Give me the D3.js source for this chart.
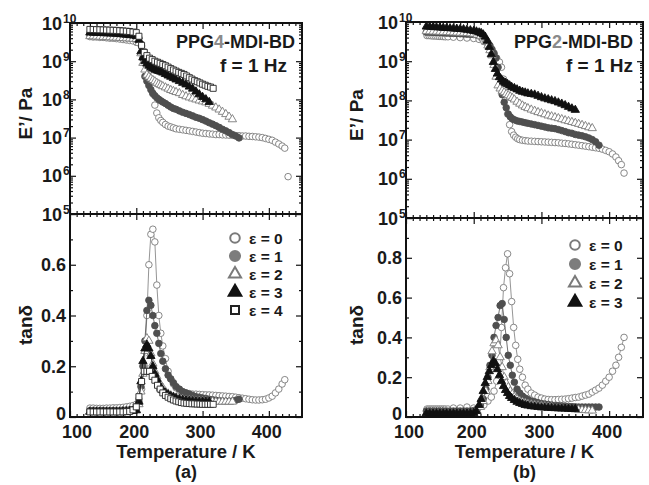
<!DOCTYPE html>
<html>
<head>
<meta charset="utf-8">
<script src="https://cdn.jsdelivr.net/npm/d3@7"></script>
<style>
  body { margin: 0; background: #fff; }
  text { font-family: "Liberation Sans", Arial, sans-serif; font-weight: bold; fill: #1a1a1a; }
</style>
</head>
<body>
<svg id="chart" width="649" height="485"></svg>
<script>
'use strict';

// ---- tick labels / legend ----
const tempTicks = [100, 200, 300, 400];
const modTicks = [1e5, 1e6, 1e7, 1e8, 1e9, 1e10];
const tanTicksA = [0, 0.2, 0.4, 0.6];
const tanTicksB = [0, 0.2, 0.4, 0.6, 0.8];
const legendA = ["ε = 0", "ε = 1", "ε = 2", "ε = 3", "ε = 4"];
const legendB = ["ε = 0", "ε = 1", "ε = 2", "ε = 3"];

// ---- (a) PPG4-MDI-BD : temperature (K), E' (Pa), tan delta ----
const tempA0 = [130,135,140,145,150,155,160,165,170,175,180,185,190,195,200,
  204,208,212,216,219,222,225,228,231,234,237,240,
  244,248,252,256,260,
  265,270,275,280,285,290,295,300,305,310,315,320,325,330,335,340,345,350,355,360,365,370,375,380,385,390,395,400,405,410,415,420,
  424,429];
const modA0 = [4.4e9,4.3e9,4.3e9,4.2e9,4.2e9,4.1e9,4.0e9,4.0e9,3.9e9,3.8e9,3.7e9,3.6e9,3.5e9,3.4e9,3.2e9,
  3.0e9,2.5e9,1.8e9,1.0e9,5.6e8,2.8e8,1.4e8,7.1e7,4.4e7,3.3e7,2.8e7,2.5e7,
  2.2e7,2.0e7,1.9e7,1.8e7,1.7e7,
  1.65e7,1.6e7,1.55e7,1.5e7,1.45e7,1.4e7,1.35e7,1.3e7,1.28e7,1.25e7,1.23e7,1.2e7,1.2e7,1.18e7,1.17e7,1.16e7,1.15e7,1.13e7,1.12e7,1.1e7,1.1e7,1.08e7,1.07e7,1.05e7,1.03e7,1.0e7,9.5e6,9.0e6,8.5e6,7.6e6,6.8e6,6.0e6,
  5.3e6,9.5e5];
const tanA0 = [0.035,0.035,0.034,0.034,0.034,0.035,0.035,0.036,0.036,0.037,0.038,0.040,0.042,0.045,0.050,
  0.07,0.11,0.20,0.40,0.60,0.72,0.74,0.69,0.52,0.40,0.33,0.28,
  0.23,0.18,0.15,0.13,0.115,
  0.105,0.098,0.094,0.092,0.090,0.090,0.089,0.088,0.087,0.087,0.086,0.085,0.084,0.083,0.082,0.081,0.080,0.078,0.076,0.074,0.072,0.070,0.068,0.067,0.067,0.068,0.070,0.075,0.082,0.095,0.110,0.130,
  0.147,null];

const tempA1 = [130,135,140,145,150,155,160,165,170,175,180,185,190,195,200,
  204,207,210,213,216,219,222,225,228,231,234,237,240,244,248,252,256,260,
  265,270,275,280,285,290,295,300,305,310,315,320,325,330,335,340,345,350,355];
const modA1 = [5.3e9,5.25e9,5.2e9,5.15e9,5.1e9,5.05e9,5.0e9,4.95e9,4.9e9,4.85e9,4.8e9,4.75e9,4.7e9,4.65e9,4.5e9,
  4.0e9,2.8e9,1.2e9,4.0e8,3.0e8,2.3e8,1.8e8,1.45e8,1.25e8,1.1e8,1.0e8,9.2e7,8.5e7,7.8e7,7.0e7,6.3e7,5.8e7,5.5e7,
  5.0e7,4.6e7,4.3e7,4.0e7,3.7e7,3.4e7,3.2e7,2.95e7,2.7e7,2.45e7,2.25e7,2.05e7,1.85e7,1.65e7,1.5e7,1.35e7,1.2e7,1.1e7,9.8e6];
const tanA1 = [0.025,0.025,0.025,0.025,0.025,0.025,0.025,0.025,0.026,0.026,0.027,0.027,0.028,0.029,0.030,
  0.06,0.12,0.20,0.30,0.42,0.46,0.44,0.40,0.36,0.33,0.29,0.25,0.22,0.19,0.165,0.15,0.135,0.12,
  0.11,0.10,0.095,0.09,0.085,0.08,0.078,0.075,0.073,0.07,0.068,0.066,0.064,0.063,0.062,0.062,0.063,0.066,0.07];

const tempA2 = [130,135,140,145,150,155,160,165,170,175,180,185,190,195,200,
  204,207,210,213,216,219,222,225,228,231,234,237,240,244,248,252,256,260,
  265,270,275,280,285,290,295,300,305,310,315,320,325,330,335,340,345];
const modA2 = [4.5e9,4.45e9,4.4e9,4.35e9,4.3e9,4.25e9,4.2e9,4.15e9,4.1e9,4.05e9,4.0e9,3.95e9,3.9e9,3.85e9,3.8e9,
  3.0e9,1.6e9,9.0e8,6.0e8,4.4e8,3.9e8,3.5e8,3.2e8,2.95e8,2.7e8,2.5e8,2.35e8,2.2e8,2.05e8,1.9e8,1.75e8,1.65e8,1.55e8,
  1.45e8,1.3e8,1.2e8,1.12e8,1.05e8,9.9e7,9.3e7,8.8e7,8.3e7,7.6e7,6.8e7,6.1e7,5.4e7,4.7e7,4.1e7,3.5e7,3.0e7];
const tanA2 = [0.022,0.022,0.022,0.022,0.022,0.022,0.022,0.022,0.022,0.023,0.023,0.024,0.025,0.026,0.028,
  0.05,0.10,0.17,0.26,0.31,0.30,0.25,0.21,0.18,0.16,0.14,0.125,0.115,0.10,0.092,0.085,0.08,0.076,
  0.072,0.07,0.068,0.066,0.065,0.064,0.063,0.062,0.062,0.061,0.061,0.060,0.060,0.060,0.060,0.060,0.060];

const tempA3 = [130,135,140,145,150,155,160,165,170,175,180,185,190,195,200,
  204,207,210,213,216,219,222,225,228,231,234,237,240,244,248,252,256,260,
  265,270,275,280,285,290,295,300,305,310];
const modA3 = [5.6e9,5.55e9,5.5e9,5.45e9,5.4e9,5.35e9,5.3e9,5.25e9,5.2e9,5.1e9,5.0e9,4.9e9,4.8e9,4.7e9,4.5e9,
  3.6e9,1.8e9,1.25e9,1.0e9,8.6e8,7.6e8,6.9e8,6.4e8,6.0e8,5.7e8,5.5e8,5.3e8,5.0e8,4.6e8,4.2e8,3.9e8,3.6e8,3.3e8,
  3.0e8,2.7e8,2.45e8,2.15e8,1.9e8,1.6e8,1.35e8,1.15e8,1.0e8,8.5e7];
const tanA3 = [0.02,0.02,0.02,0.02,0.02,0.02,0.02,0.02,0.02,0.02,0.021,0.022,0.023,0.024,0.026,
  0.06,0.14,0.22,0.27,0.285,0.27,0.24,0.20,0.17,0.15,0.13,0.115,0.105,0.095,0.088,0.082,0.078,0.074,
  0.07,0.067,0.065,0.063,0.062,0.061,0.06,0.06,0.06,0.06];

const tempA4 = [130,135,140,145,150,155,160,165,170,175,180,185,190,195,200,
  204,208,212,216,220,224,228,232,236,240,244,248,252,256,260,264,268,272,276,280,284,288,292,296,300,304,308,312,316];
const modA4 = [6.8e9,6.75e9,6.7e9,6.65e9,6.6e9,6.55e9,6.5e9,6.45e9,6.4e9,6.3e9,6.2e9,6.1e9,6.0e9,5.8e9,5.6e9,
  4.5e9,2.6e9,1.7e9,1.4e9,1.2e9,1.1e9,1.0e9,9.4e8,8.8e8,8.2e8,7.6e8,7.0e8,6.4e8,5.9e8,5.5e8,5.1e8,4.8e8,4.5e8,4.1e8,3.7e8,3.4e8,3.1e8,2.9e8,2.7e8,2.5e8,2.35e8,2.2e8,2.1e8,1.95e8];
const tanA4 = [0.02,0.02,0.02,0.02,0.02,0.02,0.02,0.02,0.02,0.02,0.02,0.021,0.022,0.028,0.04,
  0.08,0.14,0.18,0.18,0.18,0.16,0.145,0.125,0.11,0.095,0.085,0.078,0.072,0.067,0.063,0.06,0.057,0.055,0.054,0.053,0.052,0.052,0.051,0.051,0.05,0.05,0.05,0.05,0.05];

// ---- (b) PPG2-MDI-BD ----
const tempB0 = [131,134,137,140,143,146,149,152,155,158,
  162,170,180,190,200,
  208,215,221,226,230,234,238,241,244,247,250,253,256,259,262,265,268,272,276,280,
  285,290,295,300,305,310,315,320,325,330,335,340,345,350,355,360,365,370,375,380,385,390,395,400,405,410,
  414,418,422];
const modB0 = [4.5e9,4.5e9,4.45e9,4.4e9,4.4e9,4.35e9,4.3e9,4.3e9,4.25e9,4.2e9,
  4.2e9,4.1e9,4.0e9,3.9e9,3.8e9,
  3.6e9,3.2e9,2.5e9,1.8e9,1.45e9,1.2e9,9.5e8,7.0e8,3.5e8,1.2e8,4.5e7,2.4e7,1.6e7,1.3e7,1.15e7,1.05e7,1.0e7,9.6e6,9.4e6,9.2e6,
  9.1e6,9.0e6,8.9e6,8.8e6,8.7e6,8.6e6,8.5e6,8.4e6,8.3e6,8.1e6,8.0e6,7.8e6,7.6e6,7.4e6,7.2e6,7.0e6,6.8e6,6.6e6,6.4e6,6.2e6,6.0e6,5.7e6,5.3e6,4.9e6,4.3e6,3.6e6,
  2.9e6,2.3e6,1.4e6];
const tanB0 = [0.04,0.04,0.04,0.04,0.04,0.04,0.04,0.04,0.04,0.04,
  0.04,0.045,0.045,0.05,0.045,
  0.05,0.06,0.08,0.10,0.13,0.18,0.28,0.45,0.65,0.75,0.82,0.72,0.58,0.45,0.36,0.29,0.24,0.20,0.16,0.14,
  0.12,0.11,0.10,0.095,0.09,0.088,0.087,0.087,0.088,0.089,0.09,0.092,0.095,0.098,0.10,0.105,0.11,0.115,0.125,0.135,0.145,0.16,0.18,0.20,0.23,0.26,
  0.30,0.35,0.40];

const tempB1 = [130,135,140,145,150,155,160,165,170,175,180,185,190,195,200,
  205,210,214,218,221,224,227,230,233,236,239,242,245,248,251,254,257,260,264,268,272,276,280,
  285,290,295,300,305,310,315,320,325,330,335,340,345,350,355,360,365,370,375,380,385];
const modB1 = [5.5e9,5.45e9,5.4e9,5.35e9,5.3e9,5.25e9,5.2e9,5.15e9,5.1e9,5.05e9,5.0e9,4.95e9,4.9e9,4.85e9,4.8e9,
  4.6e9,4.3e9,4.0e9,3.5e9,3.0e9,2.5e9,2.0e9,1.6e9,1.2e9,7.0e8,2.5e8,1.4e8,9.0e7,6.5e7,4.5e7,3.8e7,3.4e7,3.2e7,3.0e7,2.9e7,2.8e7,2.7e7,2.6e7,
  2.5e7,2.4e7,2.3e7,2.2e7,2.1e7,2.0e7,1.95e7,1.9e7,1.8e7,1.7e7,1.6e7,1.5e7,1.45e7,1.35e7,1.3e7,1.25e7,1.18e7,1.1e7,1.0e7,8.8e6,7.2e6];
const tanB1 = [0.03,0.03,0.03,0.03,0.03,0.03,0.03,0.03,0.03,0.03,0.03,0.03,0.03,0.03,0.032,
  0.04,0.06,0.09,0.14,0.20,0.26,0.31,0.40,0.46,0.50,0.56,0.57,0.49,0.40,0.31,0.26,0.21,0.175,0.14,0.12,0.105,0.095,0.088,
  0.08,0.076,0.072,0.068,0.065,0.063,0.06,0.058,0.056,0.055,0.054,0.053,0.052,0.051,0.05,0.05,0.05,0.05,0.05,0.05,0.05];

const tempB2 = [130,135,140,145,150,155,160,165,170,175,180,185,190,195,200,
  205,210,214,218,221,224,227,230,233,236,239,242,245,248,251,254,257,260,264,268,272,276,280,
  285,290,295,300,305,310,315,320,325,330,335,340,345,350,355,360,365,370,375];
const modB2 = [5.8e9,5.75e9,5.7e9,5.65e9,5.6e9,5.55e9,5.5e9,5.45e9,5.4e9,5.35e9,5.3e9,5.25e9,5.2e9,5.1e9,5.0e9,
  4.7e9,4.3e9,3.8e9,3.1e9,2.5e9,1.9e9,1.4e9,8.0e8,4.0e8,2.4e8,2.0e8,1.75e8,1.6e8,1.45e8,1.35e8,1.25e8,1.15e8,1.05e8,9.2e7,8.2e7,7.4e7,6.8e7,6.3e7,
  5.8e7,5.4e7,5.0e7,4.7e7,4.4e7,4.1e7,3.9e7,3.7e7,3.5e7,3.3e7,3.1e7,2.95e7,2.8e7,2.65e7,2.5e7,2.35e7,2.2e7,2.05e7,1.95e7];
const tanB2 = [0.02,0.02,0.02,0.02,0.02,0.02,0.02,0.02,0.02,0.02,0.02,0.02,0.02,0.02,0.022,
  0.03,0.05,0.08,0.13,0.18,0.25,0.33,0.37,0.385,0.36,0.30,0.25,0.20,0.17,0.15,0.13,0.115,0.10,0.09,0.08,0.075,0.07,0.066,
  0.063,0.06,0.058,0.056,0.054,0.052,0.05,0.048,0.046,0.045,0.044,0.042,0.04,0.038,0.036,0.035,0.034,0.033,0.032];

const tempB3 = [130,135,140,145,150,155,160,165,170,175,180,185,190,195,200,
  204,208,211,214,217,220,223,226,229,232,235,238,241,244,247,250,253,256,260,264,268,272,276,280,
  285,290,295,300,305,310,315,320,325,330,335,340,345,350];
const modB3 = [7.6e9,7.5e9,7.4e9,7.3e9,7.2e9,7.1e9,7.0e9,6.9e9,6.8e9,6.7e9,6.6e9,6.5e9,6.3e9,6.1e9,5.9e9,
  5.7e9,5.4e9,5.2e9,4.8e9,4.2e9,3.3e9,2.3e9,1.5e9,9.5e8,6.3e8,4.8e8,3.9e8,3.4e8,3.0e8,2.8e8,2.6e8,2.4e8,2.2e8,2.05e8,1.9e8,1.75e8,1.65e8,1.58e8,1.5e8,
  1.45e8,1.4e8,1.3e8,1.2e8,1.12e8,1.06e8,1.0e8,9.5e7,8.8e7,8.2e7,7.5e7,6.8e7,6.2e7,5.7e7];
const tanB3 = [0.018,0.018,0.018,0.018,0.018,0.018,0.018,0.018,0.018,0.018,0.018,0.018,0.018,0.019,0.02,
  0.03,0.06,0.09,0.13,0.17,0.20,0.23,0.26,0.28,0.27,0.24,0.21,0.18,0.155,0.135,0.12,0.105,0.095,0.085,0.076,0.07,0.065,0.06,0.057,
  0.054,0.052,0.05,0.048,0.047,0.046,0.045,0.044,0.043,0.042,0.042,0.041,0.04,0.04];

(function() {
  const svg = d3.select("#chart");

  // marker look for eps = 0..4
  const marks = [
    {shape: d3.symbolCircle,   size: 34, fill: "#fff",    stroke: "#7a7a7a", lfill: "#fff",    lsize: 72},
    {shape: d3.symbolCircle,   size: 34, fill: "#4f4f4f", stroke: "#4f4f4f", lfill: "#7d7d7d", lsize: 80},
    {shape: d3.symbolTriangle, size: 30, fill: "#fff",    stroke: "#7a7a7a", lfill: "#fff",    lsize: 64},
    {shape: d3.symbolTriangle, size: 30, fill: "#111",    stroke: "#111",    lfill: "#111",    lsize: 70},
    {shape: d3.symbolSquare,   size: 36, fill: "#fff",    stroke: "#222",    lfill: "#fff",    lsize: 64}
  ];

  const zip = (t, e, d) => t.map((v, i) => ({t: v, e: e[i], d: d[i]}));

  const panels = [
    {x0: 70, x1: 302, yt: 23, ym: 214, yb: 417, tanMax: 0.8, tanTicks: tanTicksA,
     series: [zip(tempA0, modA0, tanA0), zip(tempA1, modA1, tanA1), zip(tempA2, modA2, tanA2),
              zip(tempA3, modA3, tanA3), zip(tempA4, modA4, tanA4)],
     legend: legendA, legX: 235, legY: 238, legStep: 18,
     num: "4", titleX: 295, freqX: 287, tag: "(a)", firstShift: 7, ylabX: 32},
    {x0: 406, x1: 643, yt: 22, ym: 218, yb: 417, tanMax: 1.0, tanTicks: tanTicksB,
     series: [zip(tempB0, modB0, tanB0), zip(tempB1, modB1, tanB1), zip(tempB2, modB2, tanB2),
              zip(tempB3, modB3, tanB3)],
     legend: legendB, legX: 575, legY: 245, legStep: 19,
     num: "2", titleX: 633, freqX: 633, tag: "(b)", firstShift: 3, ylabX: 363}
  ];

  // minor tick positions
  const minorT = d3.range(110, 450, 10).filter(v => v % 100 !== 0);
  const minorLog = [];
  for (let n = 5; n < 10; n++) for (let k = 2; k < 10; k++) minorLog.push(k * Math.pow(10, n));
  const minorTan = d3.range(0.1, 1.0, 0.2);

  function ticks(g, axisFn, scale, vals, len, tx, ty) {
    g.append("g").attr("transform", "translate(" + tx + "," + ty + ")")
      .call(axisFn(scale).tickValues(vals).tickSize(-len).tickFormat(""))
      .call(a => a.select(".domain").remove())
      .selectAll("line").attr("stroke", "#111").attr("stroke-width", 1.2);
  }

  panels.forEach(function(p) {
    const g = svg.append("g");
    const x = d3.scaleLinear().domain([100, 450]).range([p.x0, p.x1]);
    const yMod = d3.scaleLog().domain([1e5, 1e10]).range([p.ym, p.yt]);
    const yTan = d3.scaleLinear().domain([0, p.tanMax]).range([p.yb, p.ym]);

    // ticks (inward)
    [[tempTicks, 6], [minorT, 3]].forEach(function(s) {
      ticks(g, d3.axisTop, x, s[0], s[1], 0, p.yt);
      ticks(g, d3.axisBottom, x, s[0], s[1], 0, p.ym);
      ticks(g, d3.axisTop, x, s[0], s[1], 0, p.ym);
      ticks(g, d3.axisBottom, x, s[0], s[1], 0, p.yb);
    });
    [[modTicks, 6], [minorLog, 3]].forEach(function(s) {
      ticks(g, d3.axisLeft, yMod, s[0], s[1], p.x0, 0);
      ticks(g, d3.axisRight, yMod, s[0], s[1], p.x1, 0);
    });
    const tanMajor = d3.range(0, p.tanMax + 0.01, 0.2);
    [[tanMajor, 6], [minorTan.filter(v => v < p.tanMax), 3]].forEach(function(s) {
      ticks(g, d3.axisLeft, yTan, s[0], s[1], p.x0, 0);
      ticks(g, d3.axisRight, yTan, s[0], s[1], p.x1, 0);
    });

    // data: E' (top)
    p.series.forEach(function(data, i) {
      const m = marks[i];
      g.append("g").selectAll("path")
        .data(data.filter(d => d.e != null))
        .enter().append("path")
          .attr("transform", d => "translate(" + x(d.t) + "," + yMod(d.e) + ")")
          .attr("d", d3.symbol().type(m.shape).size(m.size))
          .attr("fill", m.fill).attr("stroke", m.stroke).attr("stroke-width", 0.9);
    });

    // data: tan delta (bottom), thin connecting lines
    p.series.forEach(function(data, i) {
      const m = marks[i];
      const pts = data.filter(d => d.d != null);
      g.append("path").datum(pts)
        .attr("fill", "none").attr("stroke", m.stroke).attr("stroke-width", 0.8)
        .attr("d", d3.line().x(d => x(d.t)).y(d => yTan(d.d)));
      g.append("g").selectAll("path")
        .data(pts)
        .enter().append("path")
          .attr("transform", d => "translate(" + x(d.t) + "," + yTan(d.d) + ")")
          .attr("d", d3.symbol().type(m.shape).size(m.size))
          .attr("fill", m.fill).attr("stroke", m.stroke).attr("stroke-width", 0.9);
    });

    // frames
    g.append("rect").attr("x", p.x0).attr("y", p.yt).attr("width", p.x1 - p.x0).attr("height", p.ym - p.yt)
      .attr("fill", "none").attr("stroke", "#111").attr("stroke-width", 2);
    g.append("rect").attr("x", p.x0).attr("y", p.ym).attr("width", p.x1 - p.x0).attr("height", p.yb - p.ym)
      .attr("fill", "none").attr("stroke", "#111").attr("stroke-width", 2);

    // y tick labels: 10^n
    modTicks.forEach(function(v) {
      const yy = yMod(v);
      g.append("text").attr("x", p.x0 - 8).attr("y", yy + 6.5)
        .attr("text-anchor", "end").style("font-size", "18px").text("10");
      g.append("text").attr("x", p.x0 - 7).attr("y", yy - 0.5)
        .style("font-size", "12px").text(Math.round(Math.log10(v)));
    });
    p.tanTicks.forEach(function(v) {
      g.append("text").attr("x", p.x0 - 4).attr("y", yTan(v) + (v === 0 ? 2.5 : 6.5))
        .attr("text-anchor", "end").style("font-size", "18px").text(v === 0 ? "0" : v.toFixed(1));
    });

    // x tick labels
    tempTicks.forEach(function(v, i) {
      g.append("text").attr("x", x(v) + (i === 0 ? p.firstShift : -2)).attr("y", 437.5)
        .attr("text-anchor", "middle").style("font-size", "18px").text(v);
    });

    // axis titles
    const cx = (p.x0 + p.x1) / 2;
    g.append("text").attr("x", cx).attr("y", 458).attr("text-anchor", "middle")
      .style("font-size", "18.5px").text("Temperature / K");
    g.append("text").attr("x", cx).attr("y", 478).attr("text-anchor", "middle")
      .style("font-size", "18px").text(p.tag);
    g.append("text").attr("transform", "translate(" + p.ylabX + "," + ((p.yt + p.ym) / 2 - 5) + ") rotate(-90)")
      .attr("text-anchor", "middle").style("font-size", "19px").text("E’/ Pa");
    g.append("text").attr("transform", "translate(" + p.ylabX + "," + 325 + ") rotate(-90)")
      .attr("text-anchor", "middle").style("font-size", "19px").text("tanδ");

    // sample name and frequency
    const title = g.append("text").attr("x", p.titleX).attr("y", 48)
      .attr("text-anchor", "end").style("font-size", "18px");
    title.append("tspan").text("PPG");
    title.append("tspan").style("fill", "#8a8a8a").text(p.num);
    title.append("tspan").text("-MDI-BD");
    g.append("text").attr("x", p.freqX).attr("y", 72)
      .attr("text-anchor", "end").style("font-size", "19px").text("f = 1 Hz");

    // legend
    p.legend.forEach(function(lab, i) {
      const m = marks[i];
      const yy = p.legY + i * p.legStep;
      g.append("path").attr("transform", "translate(" + p.legX + "," + yy + ")")
        .attr("d", d3.symbol().type(m.shape).size(m.lsize))
        .attr("fill", m.lfill).attr("stroke", i === 1 ? m.lfill : m.stroke).attr("stroke-width", 2);
      g.append("text").attr("x", p.legX + 14).attr("y", yy + 5.5)
        .style("font-size", "15.5px").text(lab);
    });
  });
})();
</script>
</body>
</html>
